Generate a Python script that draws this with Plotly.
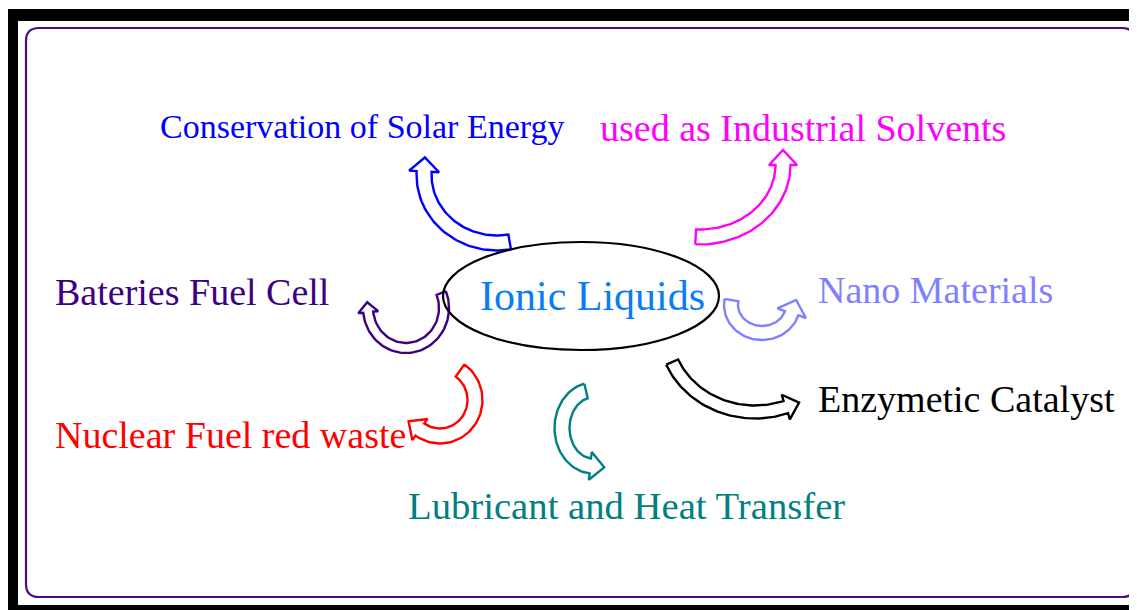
import numpy as np
import plotly.graph_objects as go

W, H = 1137, 610
PAD = 8  # default page margin around the plot div

center_label = "Ionic Liquids"
center_color = "#0A7CF5"

labels = [
    "Conservation of Solar Energy",
    "used as Industrial Solvents",
    "Bateries Fuel Cell",
    "Nano Materials",
    "Nuclear Fuel red waste",
    "Lubricant and Heat Transfer",
    "Enzymetic Catalyst",
]
colors = ["#0000FF", "#FF00FF", "#3F007F", "#8080FF", "#FF0000", "#008080", "#000000"]

# where each label sits (pixel coords, y grows downwards): left x, middle y, font size
label_pos = [
    (158, 126, 34),
    (598, 128, 38),
    (53, 292, 38),
    (816, 290, 38),
    (53, 435, 38),
    (406, 506, 38.7),
    (816, 399, 38),
]

# curved block arrows, same order as labels:
# cx, cy, rx, ry, tail angle, head angle, shaft width, head length, head half width
arrow_geom = [
    (497, 175, 73, 68, 80, 183, 15, 14, 15),
    (700, 165, 83, 72, 93, 0, 15, 15, 14),
    (406, 308, 38, 40, -22, 174, 10, 10, 10),
    (762, 305, 31, 28, 190, 17, 14, 14, 15),
    (440, 400, 35, 36, -55, 125, 15, 14, 13),
    (593, 428, 31, 38, 257, 95, 15, 14, 14),
    (755, 330, 90, 82, 157, 70, 13, 14, 13),
]


def block_arrow(cx, cy, rx, ry, a0, a1, w, hl, hw, n=60):
    t = np.radians(np.linspace(a0, a1, n))
    sgn = 1.0 if a1 > a0 else -1.0
    ox = cx + (rx + w / 2) * np.cos(t)
    oy = cy + (ry + w / 2) * np.sin(t)
    ix = cx + (rx - w / 2) * np.cos(t)
    iy = cy + (ry - w / 2) * np.sin(t)
    e = t[-1]
    px, py = cx + rx * np.cos(e), cy + ry * np.sin(e)
    tx, ty = -rx * np.sin(e) * sgn, ry * np.cos(e) * sgn
    tn = np.hypot(tx, ty)
    tx, ty = tx / tn, ty / tn
    nx, ny = ry * np.cos(e), rx * np.sin(e)
    nn = np.hypot(nx, ny)
    nx, ny = nx / nn, ny / nn
    xs = list(ox) + [px + nx * hw, px + tx * hl, px - nx * hw] + list(ix[::-1]) + [ox[0]]
    ys = list(oy) + [py + ny * hw, py + ty * hl, py - ny * hw] + list(iy[::-1]) + [oy[0]]
    return xs, ys


fig = go.Figure()

for g, c in zip(arrow_geom, colors):
    xs, ys = block_arrow(*g)
    fig.add_trace(go.Scatter(
        x=xs, y=ys, mode="lines", fill="toself", fillcolor="white",
        line=dict(color=c, width=2.4), hoverinfo="skip", showlegend=False,
    ))

# rounded purple frame
x0, y0, x1, y1, r = 26, 28, 1135, 597, 13
frame = (f"M {x0 + r},{y0} L {x1 - r},{y0} Q {x1},{y0} {x1},{y0 + r} "
         f"L {x1},{y1 - r} Q {x1},{y1} {x1 - r},{y1} L {x0 + r},{y1} "
         f"Q {x0},{y1} {x0},{y1 - r} L {x0},{y0 + r} Q {x0},{y0} {x0 + r},{y0} Z")

shapes = [
    dict(type="rect", x0=6, x1=W + 5, y0=9, y1=H + 5, fillcolor="black", line_width=0, layer="below"),
    dict(type="rect", x0=18, x1=W + 5, y0=21, y1=605, fillcolor="white", line_width=0, layer="below"),
    dict(type="path", path=frame, line=dict(color="#4B0A8C", width=2.2), layer="below"),
    dict(type="circle", x0=443, x1=719, y0=242, y1=350, line=dict(color="black", width=2.2)),
]

annotations = [
    dict(x=592, y=296, text=center_label, showarrow=False, xanchor="center", yanchor="middle",
         font=dict(family="Liberation Serif", size=42, color=center_color))
]
for text, c, (lx, ly, fs) in zip(labels, colors, label_pos):
    annotations.append(dict(
        x=lx, y=ly, text=text, showarrow=False, xanchor="left", yanchor="middle",
        font=dict(family="Liberation Serif", size=fs, color=c),
    ))

fig.update_layout(
    width=W - PAD, height=H - PAD,
    margin=dict(l=0, r=0, t=0, b=0),
    paper_bgcolor="white", plot_bgcolor="white",
    xaxis=dict(range=[PAD, W], visible=False, fixedrange=True),
    yaxis=dict(range=[H, PAD], visible=False, fixedrange=True),
    shapes=shapes,
    annotations=annotations,
)

fig.write_html("out.html")
